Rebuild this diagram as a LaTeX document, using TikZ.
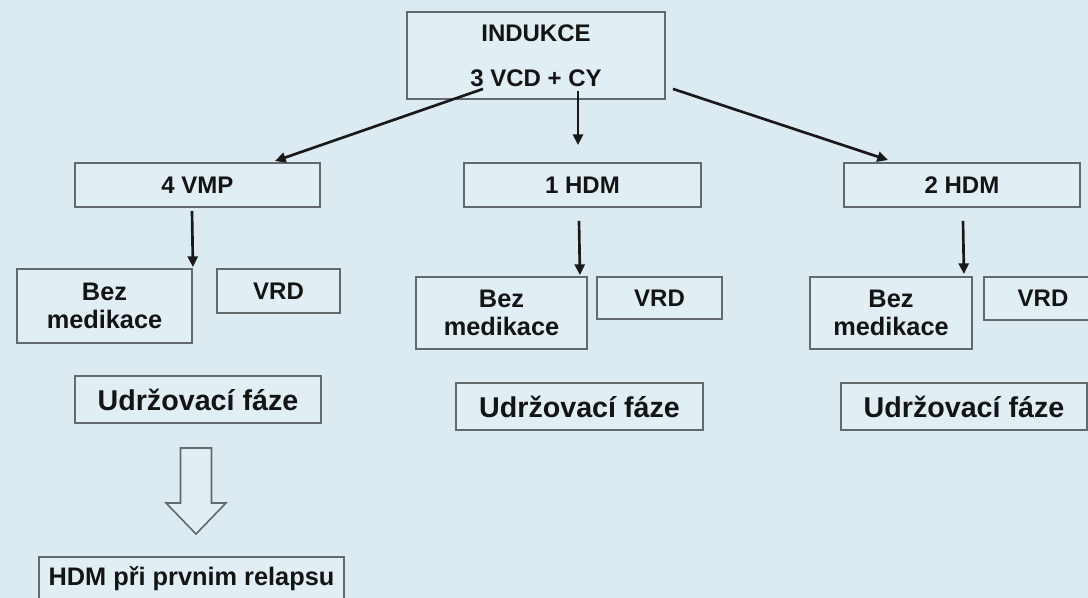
\documentclass[tikz,border=0pt]{standalone}
\usepackage{fontspec}
\setmainfont{Liberation Sans}
\usetikzlibrary{arrows.meta}
\definecolor{bg}{RGB}{220,235,242}
\definecolor{boxfill}{RGB}{225,239,245}
\definecolor{boxline}{RGB}{100,105,108}
\definecolor{txt}{RGB}{20,20,20}
\begin{document}
\begin{tikzpicture}[x=0.75pt,y=-0.75pt,
  box/.style={draw=boxline, fill=boxfill, line width=1.4pt, inner sep=0pt, align=center,
    text=txt, font=\bfseries\fontsize{18}{20}\selectfont},
  bigtext/.style={font=\bfseries\fontsize{21.5}{23}\selectfont},
  reltext/.style={font=\bfseries\fontsize{19}{21}\selectfont},
  beztext/.style={font=\bfseries\fontsize{19}{20.5}\selectfont},
  sz/.style 2 args={minimum width=#1*0.75pt, minimum height=#2*0.75pt},
  arr/.style={draw=black!90, line width=2pt, -{Triangle[length=8pt,width=7.5pt]}},
  hollow/.style={draw=boxline, fill=boxfill, line width=1.2pt, line join=miter},
]
\fill[bg] (0,0) rectangle (1088,598);
\useasboundingbox (0,0) rectangle (1088,598);

% top
\node[box,sz={258}{87}] (ind) at (536,55.5) {INDUKCE\\[14pt]3 VCD + CY};

% second level
\node[box,sz={245}{44}] (vmp)  at (197.5,185) {4 VMP};
\node[box,sz={237}{44}] (hdmA) at (582.5,185) {1 HDM};
\node[box,sz={236}{44}] (hdmB) at (962,185)   {2 HDM};

% third level
\node[box,beztext,sz={175}{74}] (bezA) at (104.5,306) {Bez\\medikace};
\node[box,sz={123}{44}] (vrdA) at (278.5,291) {VRD};
\node[box,beztext,sz={171}{72}] (bezB) at (501.5,313) {Bez\\medikace};
\node[box,sz={125}{42}] (vrdB) at (659.5,298) {VRD};
\node[box,beztext,sz={162}{72}] (bezC) at (891,313)   {Bez\\medikace};
\node[box,sz={118}{43}] (vrdC) at (1043,298.5) {VRD};

% maintenance
\node[box,bigtext,sz={246}{47}] (udrA) at (198,399.5) {Udržovací fáze};
\node[box,bigtext,sz={247}{47}] (udrB) at (579.5,406.5) {Udržovací fáze};
\node[box,bigtext,sz={246}{47}] (udrC) at (964,406.5) {Udržovací fáze};

% relapse
\node[box,reltext,sz={305}{44}] (rel) at (191.5,579) {HDM při prvnim relapsu};

% arrows from induction
\draw[arr] ([shift={(-53,-11)}]ind.south) -- ([shift={(77.5,-1)}]vmp.north);
\draw[arr] ([shift={(42,-9)}]ind.south) -- ([shift={(-4.5,-17)}]hdmA.north);
\draw[arr] ([shift={(137,-11)}]ind.south) -- ([shift={(-74,-2)}]hdmB.north);

% arrows to "Bez medikace"
\draw[arr] ([shift={(-5.5,3)}]vmp.south) -- ([shift={(0,-1)}]bezA.north east);
\draw[arr] ([shift={(-3.5,13)}]hdmA.south) -- ([shift={(-8,-1)}]bezB.north east);
\draw[arr] ([shift={(1,13)}]hdmB.south) -- ([shift={(-9,-2)}]bezC.north east);

% hollow block arrow
\coordinate (ha) at (196,448);
\draw[hollow] ([shift={(-15.5,0)}]ha) -- ([shift={(15.5,0)}]ha) -- ([shift={(15.5,55)}]ha)
  -- ([shift={(30,55)}]ha) -- ([shift={(0,86)}]ha) -- ([shift={(-30,55)}]ha)
  -- ([shift={(-15.5,55)}]ha) -- cycle;
\end{tikzpicture}
\end{document}
